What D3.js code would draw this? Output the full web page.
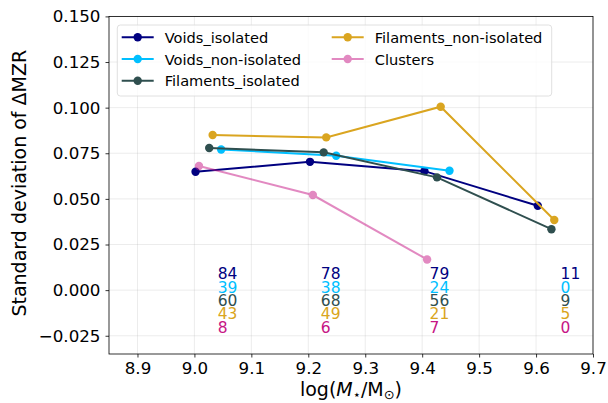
<!DOCTYPE html>
<html><head><meta charset="utf-8">
<script src="https://cdn.jsdelivr.net/npm/d3@7"></script>
<style>body{margin:0;background:#fff}svg{display:block;font-family:"DejaVu Sans",sans-serif}</style>
</head><body><svg id="c" width="608" height="403"></svg>
<script>
const seriesNames = ["Voids_isolated","Voids_non-isolated","Filaments_isolated","Filaments_non-isolated","Clusters"];
const seriesColors = ["#000080","#00BFFF","#2F4F4F","#DAA520","#C71585"];
const seriesOpacity = [1,1,1,1,0.5];
const voidsIsoX = [9.002, 9.203, 9.404, 9.603];
const voidsIsoY = [0.0649, 0.0703, 0.0652, 0.0462];
const voidsNonX = [9.047, 9.249, 9.448];
const voidsNonY = [0.0771, 0.0736, 0.0654];
const filIsoX = [9.026, 9.227, 9.426, 9.627];
const filIsoY = [0.0779, 0.0755, 0.0618, 0.0334];
const filNonX = [9.032, 9.2315, 9.4325, 9.632];
const filNonY = [0.0850, 0.0837, 0.1005, 0.0384];
const clustersX = [9.008, 9.208, 9.4086];
const clustersY = [0.0680, 0.0521, 0.0168];
const countX = [9.041, 9.222, 9.413, 9.643];
const countRowY = [0.0088, 0.0013, -0.0060, -0.0133, -0.0207];
const counts = [[84,78,79,11],[39,38,24,0],[60,68,56,9],[43,49,21,5],[8,6,7,0]];
const xTicks = [8.9,9.0,9.1,9.2,9.3,9.4,9.5,9.6,9.7];
const yTicks = [-0.025,0,0.025,0.05,0.075,0.1,0.125,0.15];

const seriesX = [voidsIsoX, voidsNonX, filIsoX, filNonX, clustersX];
const seriesY = [voidsIsoY, voidsNonY, filIsoY, filNonY, clustersY];

const svg = d3.select("#c");
const L=109, R=593, T=16.4, B=354;
const x = d3.scaleLinear().domain([8.85,9.7]).range([L,R]);
const y = d3.scaleLinear().domain([-0.035,0.15]).range([B,T]);

// grid
const g = svg.append("g");
g.selectAll(".gx").data(xTicks).join("line").attr("x1",d=>x(d)).attr("x2",d=>x(d)).attr("y1",T).attr("y2",B).attr("stroke","#b0b0b0").attr("stroke-opacity",0.3).attr("stroke-width",0.8);
g.selectAll(".gy").data(yTicks).join("line").attr("y1",d=>y(d)).attr("y2",d=>y(d)).attr("x1",L).attr("x2",R).attr("stroke","#b0b0b0").attr("stroke-opacity",0.3).attr("stroke-width",0.8);

// axes
const fmtY = d => (d<0?"\u2212":"") + Math.abs(d).toFixed(3);
const xa = svg.append("g").attr("transform",`translate(0,${B})`).call(d3.axisBottom(x).tickValues(xTicks).tickFormat(d3.format(".1f")).tickSize(3.5).tickPadding(5));
const ya = svg.append("g").attr("transform",`translate(${L},0)`).call(d3.axisLeft(y).tickValues(yTicks).tickFormat(fmtY).tickSize(3.5).tickPadding(5));
[xa,ya].forEach(a=>{a.select(".domain").remove();a.selectAll("text").attr("font-size","16.7px").attr("fill","#000").attr("font-family","DejaVu Sans");a.selectAll("line").attr("stroke","#000").attr("stroke-width",0.8);});
svg.append("rect").attr("x",L).attr("y",T).attr("width",R-L).attr("height",B-T).attr("fill","none").attr("stroke","#000").attr("stroke-width",0.8);

// lines
const line = d3.line().x(d=>x(d[0])).y(d=>y(d[1]));
seriesNames.forEach((n,i)=>{
  const pts = seriesX[i].map((v,j)=>[v,seriesY[i][j]]);
  const sg = svg.append("g").attr("opacity",seriesOpacity[i]);
  sg.append("path").datum(pts).attr("d",line).attr("fill","none").attr("stroke",seriesColors[i]).attr("stroke-width",2);
  sg.selectAll("circle").data(pts).join("circle").attr("cx",d=>x(d[0])).attr("cy",d=>y(d[1])).attr("r",4.2).attr("fill",seriesColors[i]);
});

// counts
counts.forEach((row,i)=>{
  svg.append("g").selectAll("text").data(row).join("text")
    .attr("x",(d,j)=>x(countX[j])).attr("y",y(countRowY[i])).attr("dominant-baseline","central")
    .attr("font-size","15.5px").attr("fill",seriesColors[i]).text(d=>d);
});

// legend
const lg = svg.append("g");
lg.append("rect").attr("x",117.3).attr("y",25).attr("width",434.4).attr("height",71).attr("rx",3).attr("fill","#fff").attr("fill-opacity",0.8).attr("stroke","#d8d8d8").attr("stroke-width",0.8);
const colX=[121.7,331.7];
seriesNames.forEach((n,i)=>{
  const c = i<3?0:1, r = i<3?i:i-3;
  const yy = 37.3 + r*21.7;
  const e = lg.append("g").attr("opacity",seriesOpacity[i]);
  e.append("line").attr("x1",colX[c]).attr("x2",colX[c]+32).attr("y1",yy).attr("y2",yy).attr("stroke",seriesColors[i]).attr("stroke-width",2);
  e.append("circle").attr("cx",colX[c]+16).attr("cy",yy).attr("r",4.2).attr("fill",seriesColors[i]);
  lg.append("text").attr("x",colX[c]+43).attr("y",yy).attr("dominant-baseline","central").attr("font-size","14.6px").attr("fill","#000").text(n);
});

// axis labels
const xl = svg.append("text").attr("x",(L+R)/2).attr("y",396).attr("text-anchor","middle").attr("font-size","19px");
xl.append("tspan").text("log(");
xl.append("tspan").attr("font-style","italic").text("M");
xl.append("tspan").attr("font-size","13px").attr("dy",3).text("\u22C6");
xl.append("tspan").attr("dy",-3).text("/M");
xl.append("tspan").attr("font-size","13px").attr("dy",3).text("\u2299");
xl.append("tspan").attr("dy",-3).text(")");
svg.append("text").attr("transform",`translate(26,${(T+B)/2 - 2}) rotate(-90)`).attr("text-anchor","middle").attr("font-size","19px").text("Standard deviation of \u0394MZR");
</script></body></html>
